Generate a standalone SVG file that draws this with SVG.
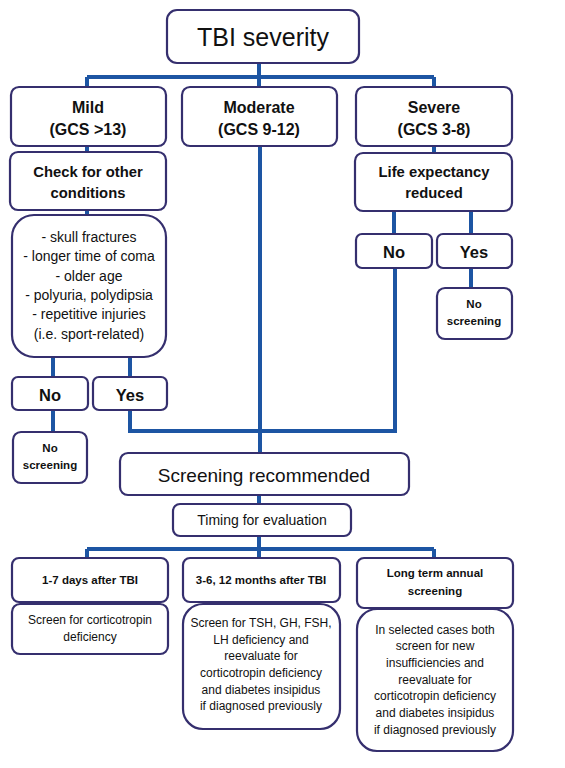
<svg xmlns="http://www.w3.org/2000/svg" width="565" height="768" viewBox="0 0 565 768">
<style>
.box{fill:#fff;stroke:#352f6e;stroke-width:2.2}
.c{fill:none;stroke:#1d55a3;stroke-width:4;stroke-linejoin:miter}
text{font-family:"Liberation Sans",Arial,sans-serif;fill:#111;text-anchor:middle}
.h{font-size:16px;font-weight:bold}
.h2{font-size:14.8px;font-weight:bold}
.yn{font-size:16.5px;font-weight:bold}
.ns{font-size:11.5px;font-weight:bold}
.l{font-size:14px}
.t{font-size:11.5px;font-weight:bold}
.d{font-size:12px}
</style>
<rect width="565" height="768" fill="#fff"/>
<g id="connectors">
<path class="c" d="M259 63V77M87 77H434M87 77V87M259 77V87M434 77V87"/>
<path class="c" d="M87 146V152M434 146V153M87 210V215"/>
<path class="c" d="M394 211V234M471 211V234M471 268V288"/>
<path class="c" d="M53 357V377M130 357V377M53 410V432"/>
<path class="c" d="M130 410V431H395V268M260 146V453"/>
<path class="c" d="M259 495V504M259 536V549M87 549H434M87 549V558M259 549V558M434 549V558"/>
</g>
<g id="tbi"><rect class="box" x="167" y="10" width="192" height="53" rx="10"/><text x="263" y="46" style="font-size:25px">TBI severity</text></g>
<g id="mild"><rect class="box" x="11" y="87" width="155" height="59" rx="8"/><text class="h" x="88" y="113">Mild</text><text class="h" x="88" y="135">(GCS &gt;13)</text></g>
<g id="moderate"><rect class="box" x="182" y="87" width="155" height="59" rx="8"/><text class="h" x="259" y="113">Moderate</text><text class="h" x="259" y="135">(GCS 9-12)</text></g>
<g id="severe"><rect class="box" x="356" y="87" width="156" height="59" rx="8"/><text class="h" x="434" y="113">Severe</text><text class="h" x="434" y="135">(GCS 3-8)</text></g>
<g id="check"><rect class="box" x="10" y="152" width="156" height="58" rx="8"/><text class="h2" x="88" y="177">Check for other</text><text class="h2" x="88" y="198">conditions</text></g>
<g id="life"><rect class="box" x="355" y="153" width="157" height="58" rx="8"/><text class="h2" x="434" y="177">Life expectancy</text><text class="h2" x="434" y="198">reduced</text></g>
<g id="conditions"><rect class="box" x="12" y="215" width="154" height="142" rx="22"/>
<text class="l" x="89" y="242">- skull fractures</text>
<text class="l" x="89" y="261">- longer time of coma</text>
<text class="l" x="89" y="281">- older age</text>
<text class="l" x="89" y="300">- polyuria, polydipsia</text>
<text class="l" x="89" y="319">- repetitive injuries</text>
<text class="l" x="89" y="339">(i.e. sport-related)</text></g>
<g id="sev-no"><rect class="box" x="356" y="234" width="76" height="34" rx="6"/><text class="yn" x="394" y="258">No</text></g>
<g id="sev-yes"><rect class="box" x="437" y="234" width="75" height="34" rx="6"/><text class="yn" x="474" y="258">Yes</text></g>
<g id="sev-noscreen"><rect class="box" x="437" y="288" width="75" height="51" rx="8"/><text class="ns" x="474" y="308">No</text><text class="ns" x="474" y="325">screening</text></g>
<g id="mild-no"><rect class="box" x="12" y="377" width="76" height="33" rx="6"/><text class="yn" x="50" y="401">No</text></g>
<g id="mild-yes"><rect class="box" x="93" y="377" width="74" height="33" rx="6"/><text class="yn" x="130" y="401">Yes</text></g>
<g id="mild-noscreen"><rect class="box" x="13" y="432" width="74" height="51" rx="8"/><text class="ns" x="50" y="452">No</text><text class="ns" x="50" y="469">screening</text></g>
<g id="screening"><rect class="box" x="120" y="453" width="289" height="42" rx="8"/><text x="264" y="482" style="font-size:19px">Screening recommended</text></g>
<g id="timing"><rect class="box" x="173" y="504" width="178" height="32" rx="7"/><text class="l" x="262" y="525">Timing for evaluation</text></g>
<g id="t1"><rect class="box" x="12" y="558" width="156" height="44" rx="7"/><text class="t" x="90" y="584">1-7 days after TBI</text></g>
<g id="t2"><rect class="box" x="183" y="558" width="157" height="44" rx="7"/><text class="t" x="261" y="584">3-6, 12 months after TBI</text></g>
<g id="t3"><rect class="box" x="357" y="558" width="156" height="50" rx="7"/><text class="t" x="435" y="577">Long term annual</text><text class="t" x="435" y="595">screening</text></g>
<g id="d1"><rect class="box" x="12" y="604" width="156" height="50" rx="8"/><text class="d" x="90" y="624">Screen for corticotropin</text><text class="d" x="90" y="641">deficiency</text></g>
<g id="d2"><rect class="box" x="183" y="604" width="157" height="125" rx="20"/>
<text class="d" x="261" y="627">Screen for TSH, GH, FSH,</text>
<text class="d" x="261" y="644">LH deficiency and</text>
<text class="d" x="261" y="660">reevaluate for</text>
<text class="d" x="261" y="677">corticotropin deficiency</text>
<text class="d" x="261" y="694">and diabetes insipidus</text>
<text class="d" x="261" y="710">if diagnosed previously</text></g>
<g id="d3"><rect class="box" x="357" y="609" width="156" height="142" rx="20"/>
<text class="d" x="435" y="634">In selected cases both</text>
<text class="d" x="435" y="650">screen for new</text>
<text class="d" x="435" y="667">insufficiencies and</text>
<text class="d" x="435" y="684">reevaluate for</text>
<text class="d" x="435" y="700">corticotropin deficiency</text>
<text class="d" x="435" y="717">and diabetes insipidus</text>
<text class="d" x="435" y="734">if diagnosed previously</text></g>
</svg>
